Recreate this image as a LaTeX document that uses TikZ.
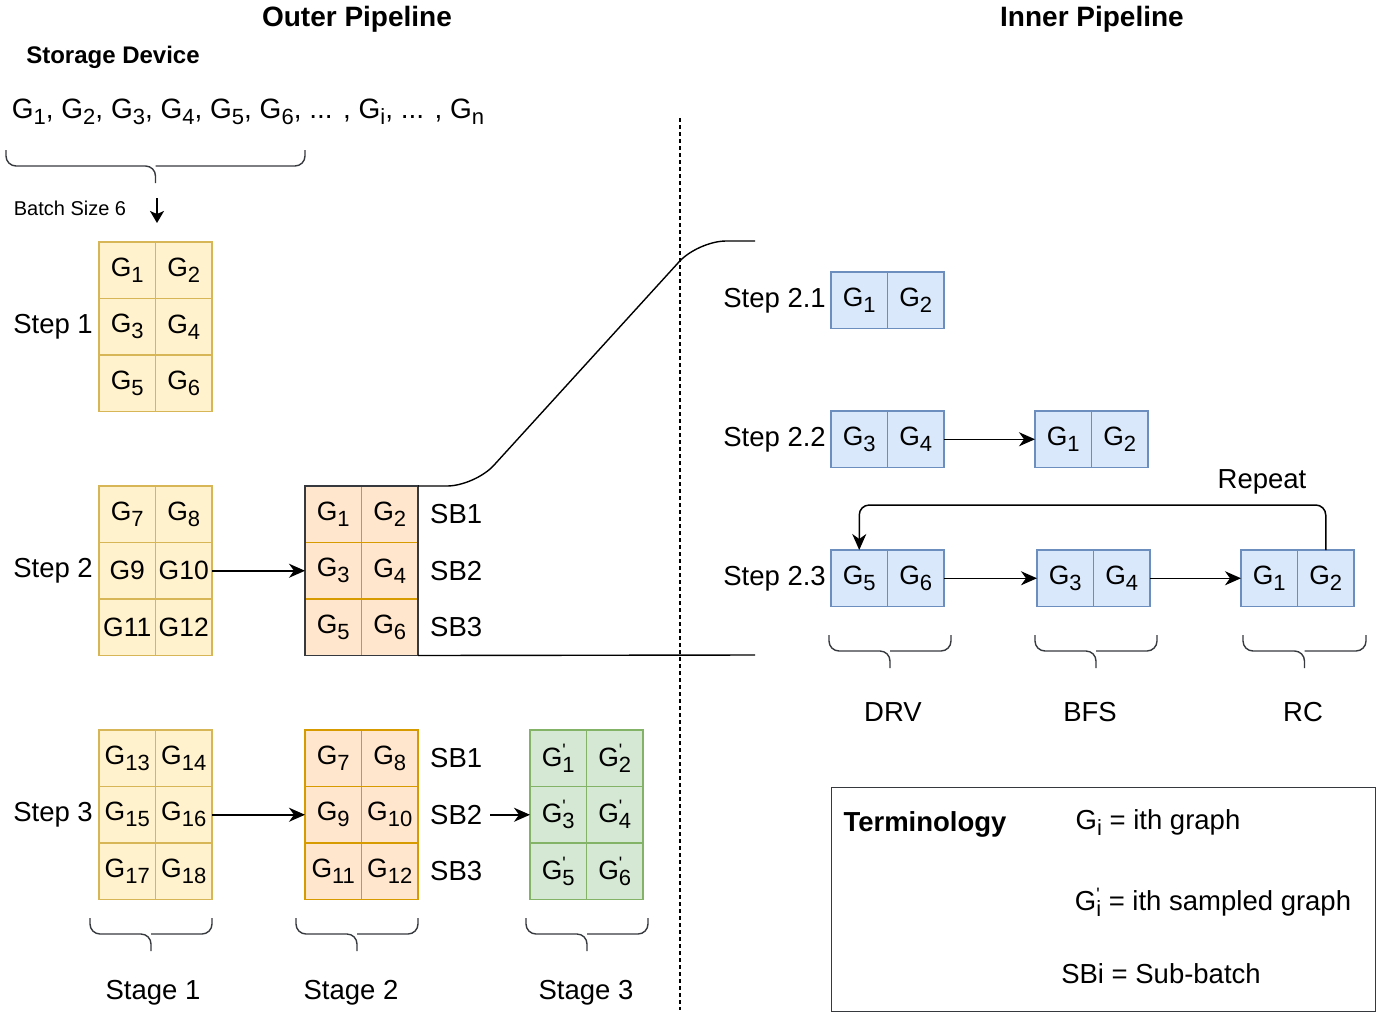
\documentclass[tikz,border=0pt]{standalone}
\usepackage{fontspec}
\setmainfont{Liberation Sans}
\usetikzlibrary{arrows.meta, positioning}

\definecolor{fillYellow}{HTML}{FFF2CC}
\definecolor{drawYellow}{HTML}{D6B656}
\definecolor{fillOrange}{HTML}{FFE6CC}
\definecolor{drawOrange}{HTML}{D79B00}
\definecolor{fillGreen}{HTML}{D5E8D4}
\definecolor{drawGreen}{HTML}{82B366}
\definecolor{fillBlue}{HTML}{DAE8FC}
\definecolor{drawBlue}{HTML}{6C8EBF}
\definecolor{frameGray}{HTML}{36393D}

\newcommand{\gsub}[1]{\raisebox{-6pt}{\fontsize{22}{22}\selectfont #1}}
\newcommand{\gprime}[1]{\rlap{\raisebox{10pt}{\fontsize{18}{18}\selectfont\textquotesingle}}\gsub{#1}}

\tikzset{
  cell/.style={minimum width=56.5pt, minimum height=56.5pt, inner sep=0pt, outer sep=0pt,
               line width=1.3pt, font=\fontsize{26.5}{30}\selectfont},
  yellowCell/.style={cell, fill=fillYellow, draw=drawYellow},
  orangeCell/.style={cell, fill=fillOrange, draw=drawOrange},
  greenCell/.style={cell, fill=fillGreen, draw=drawGreen},
  blueCell/.style={cell, fill=fillBlue, draw=drawBlue},
  plainText/.style={inner sep=2pt, font=\fontsize{27.5}{32}\selectfont},
  headText/.style={inner sep=0pt, font=\fontsize{28}{32}\selectfont\bfseries},
  arr/.style={-{Stealth[length=16pt, width=14pt, inset=5pt]}, line width=1.5pt},
  braceLine/.style={draw=frameGray, line width=1.4pt, rounded corners=10pt},
  sepLine/.style={line width=1.3pt, dash pattern=on 4pt off 3pt},
}

% 2-column grid of cells: name, x, y, style, labels
\newcommand{\batchgrid}[5]{%
  \foreach \lab [count=\k from 0] in {#5} {
    \pgfmathtruncatemacro{\col}{mod(\k,2)}
    \pgfmathtruncatemacro{\row}{div(\k,2)}
    \pgfmathtruncatemacro{\idx}{\k+1}
    \node[#4, anchor=north west] (#1-\idx) at ({#2+\col*56.5},{#3+\row*56.5}) {\lab};
  }
}

% curly brace: x left, x right, y top
\newcommand{\curly}[3]{%
  \draw[braceLine] (#1,#3) -- (#1,#3+16) -- ({(#1+#2)/2},#3+16) -- ({(#1+#2)/2},#3+33);
  \draw[braceLine] (#2,#3) -- (#2,#3+16) -- ({(#1+#2)/2},#3+16);
}

\begin{document}
\begin{tikzpicture}[x=1pt, y=-1pt]
  \useasboundingbox (0,0) rectangle (1384,1013);

  % titles
  \node[headText] (outerTitle) at (357,19) {Outer Pipeline};
  \node[headText] (innerTitle) at (1092,19) {Inner Pipeline};

  % storage device
  \node[inner sep=0pt, font=\fontsize{24}{28}\selectfont\bfseries] (storage) at (113,57) {Storage Device};
  \node[inner sep=0pt, font=\fontsize{28}{32}\selectfont] (graphList) at (248,112)
    {G\gsub{1}, G\gsub{2}, G\gsub{3}, G\gsub{4}, G\gsub{5}, G\gsub{6}, ... , G\gsub{i}, ... , G\gsub{n}};
  \curly{6}{305}{150}
  \node[inner sep=0pt, font=\fontsize{20}{24}\selectfont] (batchSize) at (70,208) {Batch Size 6};
  \coordinate (batchTop) at (157,198);
  \coordinate (batchBot) at (157,223);
  \draw[-{Stealth[length=12pt, width=14pt, inset=3pt]}, line width=1.5pt] (batchTop) -- (batchBot);

  % outer pipeline, step 1
  \batchgrid{s1}{99}{242}{yellowCell}{G\gsub{1}, G\gsub{2}, G\gsub{3}, G\gsub{4}, G\gsub{5}, G\gsub{6}}
  \node[plainText, left=4pt of s1-3] (step1) {Step 1};

  % step 2
  \batchgrid{s2}{99}{486}{yellowCell}{G\gsub{7}, G\gsub{8}, G9, G10, G11, G12}
  \node[plainText, left=4pt of s2-3] (step2) {Step 2};
  \batchgrid{sb}{305}{486}{orangeCell}{G\gsub{1}, G\gsub{2}, G\gsub{3}, G\gsub{4}, G\gsub{5}, G\gsub{6}}
  \draw[frameGray, line width=1.5pt] (sb-1.north west) rectangle (sb-6.south east);
  \node[plainText, right=10pt of sb-2] (sbA1) {SB1};
  \node[plainText, right=10pt of sb-4] (sbA2) {SB2};
  \node[plainText, right=10pt of sb-6] (sbA3) {SB3};
  \draw[arr] (s2-4.east) -- (sb-3.west);

  % zoom lines to the inner pipeline
  \coordinate (zoomTop) at (755,241);
  \coordinate (zoomBot) at (755,655);
  \draw[line width=1.4pt, rounded corners=28pt] (sb-2.north east) -- (475,486) -- (698,241) -- (zoomTop);
  \draw[line width=1.4pt] (sb-6.south east) -- (zoomBot);

  % step 3
  \batchgrid{s3}{99}{730}{yellowCell}{G\gsub{13}, G\gsub{14}, G\gsub{15}, G\gsub{16}, G\gsub{17}, G\gsub{18}}
  \node[plainText, left=4pt of s3-3] (step3) {Step 3};
  \batchgrid{sc}{305}{730}{orangeCell}{G\gsub{7}, G\gsub{8}, G\gsub{9}, G\gsub{10}, G\gsub{11}, G\gsub{12}}
  \node[plainText, right=10pt of sc-2] (sbB1) {SB1};
  \node[plainText, right=10pt of sc-4] (sbB2) {SB2};
  \node[plainText, right=10pt of sc-6] (sbB3) {SB3};
  \batchgrid{sg}{530}{730}{greenCell}{G\gprime{1}, G\gprime{2}, G\gprime{3}, G\gprime{4}, G\gprime{5}, G\gprime{6}}
  \draw[arr] (s3-4.east) -- (sc-3.west);
  \draw[arr, shorten <=6pt] (sbB2.east) -- (sg-3.west);

  % stages
  \curly{90}{212}{918}
  \curly{296}{418}{918}
  \curly{526}{648}{918}
  \node[plainText] (stage1) at (153,993) {Stage 1};
  \node[plainText] (stage2) at (351,993) {Stage 2};
  \node[plainText] (stage3) at (586,993) {Stage 3};

  % separator
  \draw[sepLine] (680,118) -- (680,1010);

  % inner pipeline
  \batchgrid{b21}{831}{272}{blueCell}{G\gsub{1}, G\gsub{2}}
  \node[plainText, left=3pt of b21-1] (step21) {Step 2.1};

  \batchgrid{b22a}{831}{411}{blueCell}{G\gsub{3}, G\gsub{4}}
  \batchgrid{b22b}{1035}{411}{blueCell}{G\gsub{1}, G\gsub{2}}
  \node[plainText, left=3pt of b22a-1] (step22) {Step 2.2};
  \draw[arr] (b22a-2.east) -- (b22b-1.west);

  \batchgrid{drv}{831}{550}{blueCell}{G\gsub{5}, G\gsub{6}}
  \batchgrid{bfs}{1037}{550}{blueCell}{G\gsub{3}, G\gsub{4}}
  \batchgrid{rc}{1241}{550}{blueCell}{G\gsub{1}, G\gsub{2}}
  \node[plainText, left=3pt of drv-1] (step23) {Step 2.3};
  \draw[arr] (drv-2.east) -- (bfs-1.west);
  \draw[arr] (bfs-2.east) -- (rc-1.west);
  \draw[arr, rounded corners=10pt] (rc-2.north) -- ++(0,-45) -| (drv-1.north);
  \node[plainText] (repeat) at (1262,482) {Repeat};

  \curly{829}{951}{635}
  \curly{1035}{1157}{635}
  \curly{1243}{1366}{635}
  \node[plainText] (drvText) at (893,712) {DRV};
  \node[plainText] (bfsText) at (1090,712) {BFS};
  \node[plainText] (rcText) at (1303,712) {RC};

  % terminology
  \node[draw=frameGray, line width=1.3pt, minimum width=544pt, minimum height=224pt,
        inner sep=0pt, anchor=north west] (termBox) at (831,787) {};
  \node[inner sep=0pt, font=\fontsize{27.5}{32}\selectfont\bfseries] (termHead) at (925,824) {Terminology};
  \node[plainText] (termG) at (1158,823) {G\gsub{i} = ith graph};
  \node[plainText] (termGp) at (1213,902) {G\gprime{i} = ith sampled graph};
  \node[plainText] (termSB) at (1161,974) {SBi = Sub-batch};
\end{tikzpicture}
\end{document}
